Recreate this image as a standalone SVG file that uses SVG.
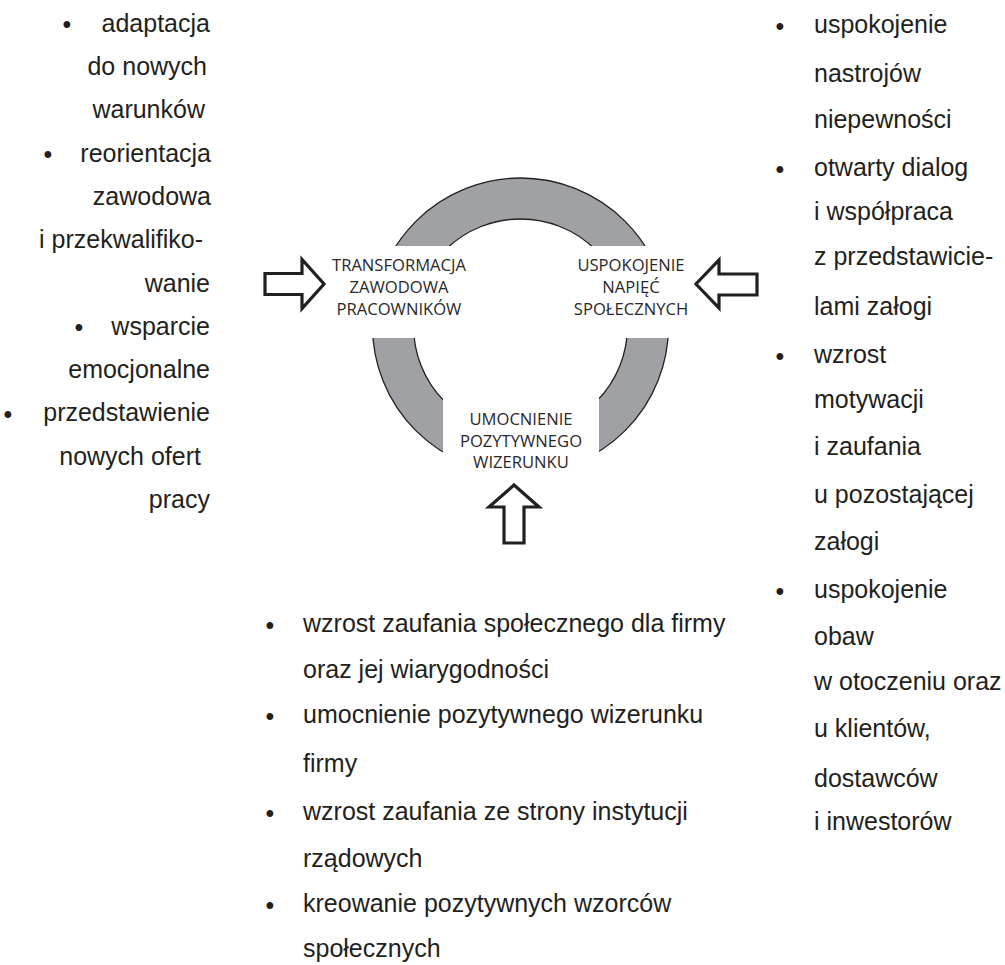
<svg xmlns="http://www.w3.org/2000/svg" width="1005" height="965" viewBox="0 0 1005 965">
  <style>
    .body { font-family: "Liberation Sans", Arial, sans-serif; font-size: 25px; fill: #231f20; }
    .cap { font-family: "Open Sans", "Lato", sans-serif; font-size: 16.6px; fill: #2b2829; text-anchor: middle; }
    .end { text-anchor: end; }
    .dot { text-anchor: middle; }
    .arrow { fill: #ffffff; stroke: #231f20; stroke-width: 3.2; stroke-linejoin: miter; }
    .ring { fill: #a0a1a4; stroke: #231f20; stroke-width: 1.3; fill-rule: evenodd; }
  </style>
  <rect width="1005" height="965" fill="#ffffff"/>

  <!-- grey cycle ring, opened where the three labels sit -->
  <g id="ring">
    <path class="ring" d="M372.5,326a148,148 0 1,0 296,0a148,148 0 1,0 -296,0Z M413.5,326a107,107 0 1,0 214,0a107,107 0 1,0 -214,0Z"/>
    <rect x="355" y="246" width="332" height="92" fill="#ffffff"/>
    <rect x="443" y="390" width="156" height="88" fill="#ffffff"/>
  </g>

  <g id="node-transformacja">
    <text class="cap" x="399" y="271">TRANSFORMACJA</text>
    <text class="cap" x="399" y="293">ZAWODOWA</text>
    <text class="cap" x="399" y="315">PRACOWNIKÓW</text>
  </g>
  <g id="node-uspokojenie">
    <text class="cap" x="631" y="271">USPOKOJENIE</text>
    <text class="cap" x="631" y="293">NAPIĘĆ</text>
    <text class="cap" x="631" y="315">SPOŁECZNYCH</text>
  </g>
  <g id="node-umocnienie">
    <text class="cap" x="521" y="425">UMOCNIENIE</text>
    <text class="cap" x="521" y="447">POZYTYWNEGO</text>
    <text class="cap" x="521" y="468">WIZERUNKU</text>
  </g>

  <!-- hollow block arrows pointing at the labels -->
  <g id="connectors">
    <polygon class="arrow" points="265,273.5 302,273.5 302,259.5 324,284 302,308.5 302,294.5 265,294.5"/>
    <polygon class="arrow" points="757,274 719,274 719,260 696,284 719,308 719,295 757,295"/>
    <polygon class="arrow" points="514,485 539,507 524,507 524,543 504,543 504,507 489,507"/>
  </g>

  <g id="list-left" class="body">
    <text class="dot" x="67" y="33">•</text>
    <text class="end" x="210" y="31.7">adaptacja</text>
    <text class="end" x="207" y="75">do nowych</text>
    <text class="end" x="205" y="118.3">warunków</text>
    <text class="dot" x="48" y="163">•</text>
    <text class="end" x="211" y="161.6">reorientacja</text>
    <text class="end" x="211" y="204.9">zawodowa</text>
    <text class="end" x="203" y="248.2">i przekwalifiko-</text>
    <text class="end" x="210" y="291.5">wanie</text>
    <text class="dot" x="79" y="336">•</text>
    <text class="end" x="210" y="334.8">wsparcie</text>
    <text class="end" x="210" y="378.1">emocjonalne</text>
    <text class="dot" x="8" y="423">•</text>
    <text class="end" x="210" y="421.4">przedstawienie</text>
    <text class="end" x="201" y="464.7">nowych ofert</text>
    <text class="end" x="210" y="508">pracy</text>
  </g>

  <g id="list-right" class="body">
    <text class="dot" x="780" y="35">•</text>
    <text x="814" y="33.3">uspokojenie</text>
    <text x="814" y="81.7">nastrojów</text>
    <text x="814" y="128">niepewności</text>
    <text class="dot" x="780" y="178">•</text>
    <text x="814" y="176">otwarty dialog</text>
    <text x="814" y="220">i współpraca</text>
    <text x="814" y="265">z przedstawicie-</text>
    <text x="814" y="315">lami załogi</text>
    <text class="dot" x="780" y="365">•</text>
    <text x="814" y="363">wzrost</text>
    <text x="814" y="408">motywacji</text>
    <text x="814" y="455">i zaufania</text>
    <text x="814" y="503">u pozostającej</text>
    <text x="814" y="550">załogi</text>
    <text class="dot" x="780" y="600">•</text>
    <text x="814" y="598">uspokojenie</text>
    <text x="814" y="645">obaw</text>
    <text x="814" y="690">w otoczeniu oraz</text>
    <text x="814" y="737">u klientów,</text>
    <text x="814" y="787">dostawców</text>
    <text x="814" y="830">i inwestorów</text>
  </g>

  <g id="list-bottom" class="body">
    <text class="dot" x="270" y="634">•</text>
    <text x="303" y="631.7">wzrost zaufania społecznego dla firmy</text>
    <text x="303" y="678">oraz jej wiarygodności</text>
    <text class="dot" x="270" y="725">•</text>
    <text x="303" y="723">umocnienie pozytywnego wizerunku</text>
    <text x="303" y="772">firmy</text>
    <text class="dot" x="270" y="822">•</text>
    <text x="303" y="820">wzrost zaufania ze strony instytucji</text>
    <text x="303" y="867">rządowych</text>
    <text class="dot" x="270" y="914">•</text>
    <text x="303" y="912">kreowanie pozytywnych wzorców</text>
    <text x="303" y="957">społecznych</text>
  </g>
</svg>
